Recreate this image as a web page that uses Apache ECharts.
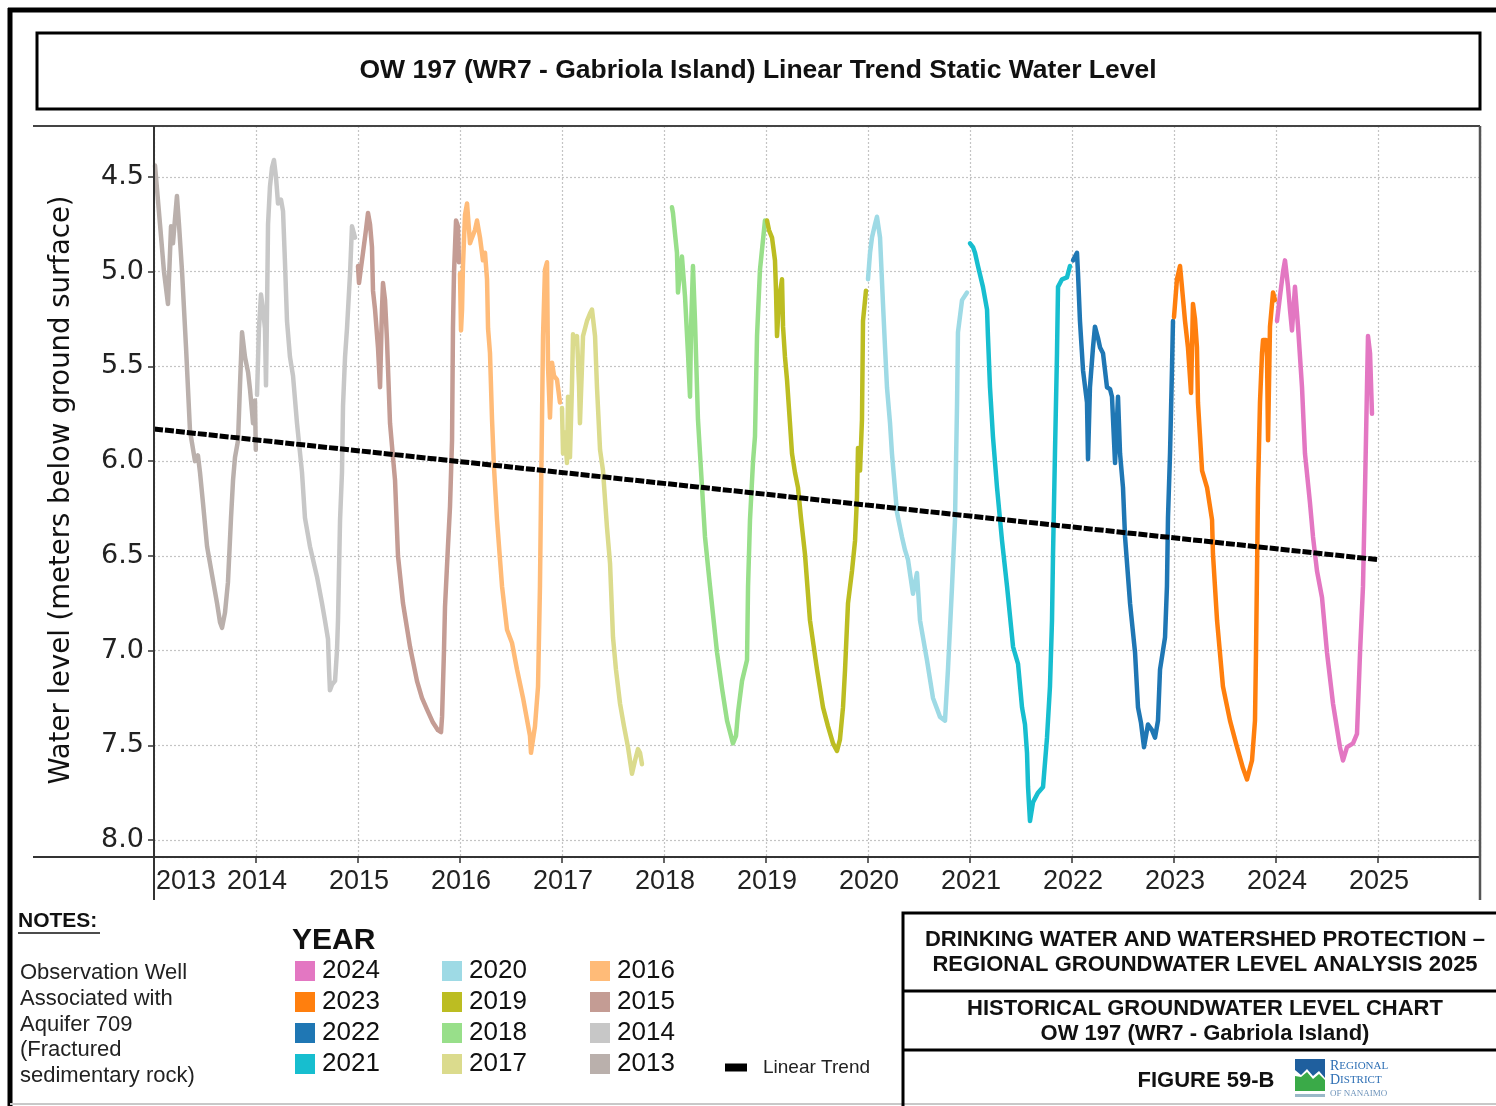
<!DOCTYPE html>
<html>
<head>
<meta charset="utf-8">
<title>OW 197 (WR7 - Gabriola Island) Linear Trend Static Water Level</title>
<script src="https://cdn.jsdelivr.net/npm/echarts@6/dist/echarts.min.js"></script>
<style>
  html, body { margin: 0; padding: 0; background: #ffffff; }
  #chart { width: 1496px; height: 1106px; }
</style>
</head>
<body>
<div id="chart"></div>
<script>
// Static water level (m below ground surface) at OW 197, one trace per year.
// Each point is [fraction of the year elapsed, water level].
const level2013 = [[0.010,4.44],[0.059,4.75],[0.098,5.00],[0.137,5.17],[0.157,4.90],[0.167,4.76],[0.186,4.85],[0.206,4.72],[0.225,4.60],[0.245,4.75],[0.275,5.00],[0.314,5.40],[0.353,5.84],[0.402,6.00],[0.431,5.97],[0.451,6.06],[0.480,6.22],[0.520,6.45],[0.569,6.60],[0.618,6.75],[0.647,6.85],[0.667,6.88],[0.696,6.80],[0.725,6.64],[0.755,6.30],[0.775,6.10],[0.794,5.98],[0.824,5.89],[0.843,5.60],[0.863,5.32],[0.892,5.45],[0.922,5.53],[0.941,5.62],[0.971,5.80],[0.990,5.68],[0.998,5.94]];
const level2014 = [[0.010,5.65],[0.029,5.30],[0.049,5.12],[0.069,5.20],[0.088,5.30],[0.098,5.60],[0.108,5.20],[0.118,4.75],[0.137,4.55],[0.157,4.45],[0.176,4.41],[0.196,4.50],[0.216,4.64],[0.245,4.62],[0.265,4.68],[0.284,4.95],[0.304,5.26],[0.333,5.45],[0.363,5.55],[0.402,5.80],[0.451,6.06],[0.480,6.30],[0.529,6.45],[0.598,6.61],[0.647,6.75],[0.676,6.84],[0.706,6.94],[0.716,7.10],[0.725,7.21],[0.745,7.18],[0.775,7.16],[0.794,7.00],[0.804,6.84],[0.824,6.31],[0.843,6.06],[0.853,5.71],[0.873,5.45],[0.892,5.30],[0.922,5.01],[0.941,4.76],[0.971,4.82]];
const level2015 = [[0.000,4.97],[0.010,5.06],[0.029,4.98],[0.049,4.90],[0.078,4.78],[0.098,4.69],[0.118,4.75],[0.137,4.87],[0.147,5.10],[0.167,5.20],[0.196,5.40],[0.216,5.61],[0.235,5.20],[0.245,5.06],[0.265,5.15],[0.284,5.36],[0.314,5.80],[0.343,5.98],[0.363,6.10],[0.392,6.50],[0.441,6.75],[0.510,6.98],[0.578,7.16],[0.627,7.25],[0.676,7.31],[0.735,7.38],[0.784,7.42],[0.814,7.43],[0.824,7.35],[0.843,7.00],[0.853,6.77],[0.882,6.45],[0.902,6.24],[0.922,5.89],[0.931,5.30],[0.941,5.01],[0.961,4.73],[0.980,4.76],[0.990,4.95]];
const level2016 = [[0.000,5.01],[0.010,5.31],[0.020,5.20],[0.029,4.97],[0.049,4.70],[0.069,4.64],[0.098,4.85],[0.118,4.82],[0.147,4.78],[0.167,4.73],[0.196,4.82],[0.225,4.94],[0.245,4.90],[0.265,5.04],[0.275,5.30],[0.294,5.43],[0.314,5.78],[0.333,6.03],[0.363,6.31],[0.412,6.66],[0.461,6.89],[0.510,6.96],[0.559,7.10],[0.618,7.25],[0.686,7.45],[0.696,7.54],[0.735,7.40],[0.765,7.19],[0.784,6.66],[0.794,6.20],[0.804,5.78],[0.814,5.34],[0.833,4.99],[0.853,4.95],[0.863,5.50],[0.882,5.77],[0.902,5.48],[0.922,5.55],[0.951,5.57],[0.980,5.69]];
const level2017 = [[0.000,5.72],[0.010,5.96],[0.029,5.85],[0.049,6.01],[0.059,5.66],[0.078,5.98],[0.098,5.60],[0.108,5.33],[0.127,5.38],[0.147,5.34],[0.167,5.60],[0.176,5.80],[0.196,5.50],[0.206,5.34],[0.245,5.26],[0.275,5.22],[0.294,5.20],[0.324,5.34],[0.343,5.61],[0.373,5.94],[0.402,6.05],[0.441,6.35],[0.471,6.54],[0.500,6.93],[0.529,7.10],[0.569,7.28],[0.608,7.40],[0.647,7.51],[0.686,7.65],[0.716,7.58],[0.745,7.52],[0.765,7.54],[0.784,7.60]];
const level2018 = [[0.078,4.66],[0.088,4.69],[0.108,4.80],[0.127,4.90],[0.137,5.11],[0.157,5.00],[0.176,4.92],[0.206,5.13],[0.235,5.43],[0.255,5.66],[0.265,5.30],[0.284,4.97],[0.304,5.26],[0.333,5.78],[0.373,6.14],[0.402,6.40],[0.451,6.66],[0.520,7.01],[0.569,7.20],[0.618,7.37],[0.676,7.49],[0.706,7.45],[0.725,7.33],[0.765,7.16],[0.814,7.05],[0.824,6.66],[0.843,6.31],[0.873,6.00],[0.892,5.87],[0.912,5.34],[0.941,4.99],[0.971,4.83],[0.990,4.73]];
const level2019 = [[0.010,4.73],[0.029,4.78],[0.059,4.82],[0.088,4.94],[0.098,5.10],[0.108,5.34],[0.127,5.15],[0.157,5.04],[0.167,5.29],[0.186,5.45],[0.206,5.57],[0.235,5.80],[0.255,5.96],[0.284,6.06],[0.314,6.14],[0.343,6.30],[0.382,6.49],[0.431,6.84],[0.500,7.10],[0.559,7.30],[0.608,7.40],[0.657,7.49],[0.696,7.53],[0.725,7.47],[0.755,7.30],[0.775,7.10],[0.804,6.75],[0.843,6.58],[0.873,6.42],[0.892,6.19],[0.902,5.93],[0.922,6.05],[0.941,5.78],[0.951,5.26],[0.980,5.10]];
const level2020 = [[0.000,5.04],[0.020,4.90],[0.039,4.82],[0.069,4.75],[0.088,4.71],[0.118,4.82],[0.147,5.17],[0.167,5.40],[0.186,5.61],[0.216,5.80],[0.235,5.96],[0.284,6.27],[0.333,6.40],[0.363,6.47],[0.392,6.52],[0.441,6.70],[0.480,6.59],[0.510,6.84],[0.578,7.05],[0.637,7.25],[0.706,7.35],[0.755,7.37],[0.784,7.10],[0.824,6.66],[0.853,6.31],[0.873,5.70],[0.882,5.32],[0.922,5.15],[0.971,5.11]];
const level2021 = [[0.000,4.85],[0.029,4.87],[0.049,4.90],[0.078,4.97],[0.127,5.08],[0.167,5.20],[0.176,5.34],[0.196,5.61],[0.225,5.87],[0.265,6.14],[0.314,6.42],[0.363,6.66],[0.422,6.98],[0.471,7.07],[0.510,7.30],[0.539,7.39],[0.559,7.54],[0.569,7.72],[0.588,7.90],[0.618,7.80],[0.667,7.75],[0.716,7.72],[0.755,7.46],[0.784,7.19],[0.804,6.84],[0.814,6.49],[0.833,5.96],[0.853,5.43],[0.863,5.08],[0.902,5.04],[0.951,5.03],[0.980,4.97]];
const level2022 = [[0.010,4.94],[0.029,4.93],[0.049,4.90],[0.059,5.01],[0.078,5.26],[0.108,5.52],[0.147,5.69],[0.157,5.99],[0.176,5.61],[0.206,5.40],[0.225,5.29],[0.255,5.35],[0.275,5.40],[0.304,5.43],[0.343,5.61],[0.373,5.62],[0.392,5.66],[0.422,6.01],[0.451,5.66],[0.471,5.96],[0.500,6.14],[0.520,6.40],[0.569,6.75],[0.618,7.01],[0.647,7.30],[0.676,7.38],[0.706,7.51],[0.745,7.39],[0.784,7.42],[0.814,7.46],[0.843,7.37],[0.863,7.10],[0.912,6.93],[0.931,6.66],[0.941,6.30],[0.961,5.96],[0.980,5.52],[0.990,5.26]];
const level2023 = [[0.000,5.24],[0.029,5.04],[0.059,4.97],[0.078,5.08],[0.108,5.26],[0.137,5.40],[0.167,5.64],[0.186,5.17],[0.206,5.25],[0.225,5.40],[0.235,5.69],[0.275,6.05],[0.324,6.14],[0.373,6.31],[0.382,6.49],[0.422,6.84],[0.480,7.19],[0.549,7.37],[0.618,7.51],[0.676,7.62],[0.716,7.68],[0.745,7.62],[0.765,7.58],[0.794,7.37],[0.804,7.01],[0.814,6.58],[0.824,6.14],[0.843,5.69],[0.863,5.43],[0.873,5.36],[0.902,5.36],[0.912,5.45],[0.922,5.89],[0.941,5.29],[0.971,5.11],[0.990,5.15]];
const level2024 = [[0.010,5.26],[0.039,5.13],[0.069,5.00],[0.088,4.94],[0.118,5.08],[0.137,5.20],[0.157,5.31],[0.186,5.08],[0.216,5.29],[0.255,5.61],[0.284,5.96],[0.333,6.22],[0.363,6.40],[0.402,6.58],[0.451,6.72],[0.500,7.01],[0.559,7.28],[0.627,7.51],[0.657,7.58],[0.696,7.51],[0.755,7.49],[0.794,7.44],[0.824,7.01],[0.853,6.66],[0.873,6.14],[0.892,5.61],[0.902,5.34],[0.922,5.43],[0.941,5.75]];

// Linear trend fitted through the full record: [start, end]
const trendYears = [2013.0, 2025.0];
const trendLevels = [5.83, 6.52];

const years = [2013, 2014, 2015, 2016, 2017, 2018, 2019, 2020, 2021, 2022, 2023, 2024];
const levelsByYear = {
  2013: level2013, 2014: level2014, 2015: level2015, 2016: level2016,
  2017: level2017, 2018: level2018, 2019: level2019, 2020: level2020,
  2021: level2021, 2022: level2022, 2023: level2023, 2024: level2024
};

// Legend columns, as printed in the key
const legendColumns = [
  ['2024', '2023', '2022', '2021'],
  ['2020', '2019', '2018', '2017'],
  ['2016', '2015', '2014', '2013']
];

const notesText = ['Observation Well', 'Associated with', 'Aquifer 709', '(Fractured', 'sedimentary rock)'];

// ---- styling ----
const yearColors = {
  2024: '#e377c2', 2023: '#ff7f0e', 2022: '#1f77b4', 2021: '#17becf',
  2020: '#9edae5', 2019: '#bcbd22', 2018: '#98df8a', 2017: '#dbdb8d',
  2016: '#ffbb78', 2015: '#c49c94', 2014: '#c7c7c7', 2013: '#bab0ac'
};
const SANS = '"Liberation Sans", Arial, sans-serif';
const ROUND = '"DejaVu Sans", Verdana, sans-serif';
const INK = '#111111';

const chart = echarts.init(document.getElementById('chart'), null, { renderer: 'canvas' });

const yearSeries = years.map(function (yr) {
  return {
    name: String(yr),
    type: 'line',
    showSymbol: false,
    symbol: 'none',
    silent: true,
    z: 3,
    lineStyle: { color: yearColors[yr], width: 4.5, cap: 'round', join: 'round' },
    itemStyle: { color: yearColors[yr] },
    data: levelsByYear[yr].map(function (p) { return [yr + p[0], p[1]]; })
  };
});

const trendSeries = {
  name: 'Linear Trend',
  type: 'line',
  showSymbol: false,
  symbol: 'none',
  silent: true,
  z: 5,
  lineStyle: { color: '#000000', width: 5, type: [9, 2] },
  itemStyle: { color: '#000000' },
  data: trendYears.map(function (x, i) { return [x, trendLevels[i]]; })
};

function yearLegend(names, left) {
  return {
    orient: 'vertical',
    left: left,
    top: 958,
    itemWidth: 20,
    itemHeight: 20,
    itemGap: 5,
    icon: 'rect',
    selectedMode: false,
    padding: 0,
    textStyle: { fontFamily: SANS, fontSize: 26, color: INK, lineHeight: 26, padding: [0, 0, 0, 2] },
    data: names
  };
}

const serifLogo = '"Liberation Serif", serif';
const graphics = [
  // outer sheet frame
  { type: 'line', shape: { x1: 10, y1: 8, x2: 10, y2: 1106 }, style: { stroke: '#000', lineWidth: 5 } },
  { type: 'line', shape: { x1: 8, y1: 10, x2: 1496, y2: 10 }, style: { stroke: '#000', lineWidth: 5 } },
  { type: 'line', shape: { x1: 10, y1: 1104, x2: 1496, y2: 1104 }, style: { stroke: '#c8c8c8', lineWidth: 2 } },
  // title box
  { type: 'rect', shape: { x: 37, y: 33, width: 1443, height: 76 }, style: { fill: 'none', stroke: '#000', lineWidth: 3 } },
  { type: 'text', x: 758, y: 71, style: { text: 'OW 197 (WR7 - Gabriola Island) Linear Trend Static Water Level', fontFamily: SANS, fontWeight: 'bold', fontSize: 26.5, fill: INK, align: 'center', verticalAlign: 'middle' } },
  // plot frame
  { type: 'line', shape: { x1: 33, y1: 126, x2: 1480, y2: 126 }, style: { stroke: '#444', lineWidth: 2 }, z: 10 },
  { type: 'line', shape: { x1: 33, y1: 857, x2: 1480, y2: 857 }, style: { stroke: '#333', lineWidth: 2 }, z: 10 },
  { type: 'line', shape: { x1: 154, y1: 126, x2: 154, y2: 900 }, style: { stroke: '#333', lineWidth: 2 }, z: 10 },
  { type: 'line', shape: { x1: 1480, y1: 126, x2: 1480, y2: 900 }, style: { stroke: '#555', lineWidth: 2.5 }, z: 10 },
  // y axis title
  { type: 'text', x: 62, y: 490, rotation: Math.PI / 2, style: { text: 'Water level (meters below ground surface)', fontFamily: ROUND, fontSize: 27.5, fill: INK, align: 'center', verticalAlign: 'middle' } },
  // notes
  { type: 'text', x: 18, y: 921, style: { text: 'NOTES:', fontFamily: SANS, fontWeight: 'bold', fontSize: 21, fill: INK, align: 'left', verticalAlign: 'middle' } },
  { type: 'line', shape: { x1: 18, y1: 933, x2: 100, y2: 933 }, style: { stroke: INK, lineWidth: 1.5 } },
  { type: 'text', x: 20, y: 960, style: { text: notesText.join('\n'), fontFamily: SANS, fontSize: 22, lineHeight: 25.8, fill: '#222', align: 'left', verticalAlign: 'top' } },
  // legend heading
  { type: 'text', x: 292, y: 941, style: { text: 'YEAR', fontFamily: SANS, fontWeight: 'bold', fontSize: 30, fill: INK, align: 'left', verticalAlign: 'middle' } },
  // title block
  { type: 'rect', shape: { x: 903, y: 913, width: 600, height: 200 }, style: { fill: 'none', stroke: '#000', lineWidth: 3 } },
  { type: 'line', shape: { x1: 903, y1: 991, x2: 1496, y2: 991 }, style: { stroke: '#000', lineWidth: 3 } },
  { type: 'line', shape: { x1: 903, y1: 1050, x2: 1496, y2: 1050 }, style: { stroke: '#000', lineWidth: 3 } },
  { type: 'text', x: 1205, y: 952, style: { text: 'DRINKING WATER AND WATERSHED PROTECTION –\nREGIONAL GROUNDWATER LEVEL ANALYSIS 2025', fontFamily: SANS, fontWeight: 'bold', fontSize: 22, lineHeight: 25, fill: INK, align: 'center', verticalAlign: 'middle' } },
  { type: 'text', x: 1205, y: 1021, style: { text: 'HISTORICAL GROUNDWATER LEVEL CHART\nOW 197 (WR7 - Gabriola Island)', fontFamily: SANS, fontWeight: 'bold', fontSize: 22, lineHeight: 25, fill: INK, align: 'center', verticalAlign: 'middle' } },
  { type: 'text', x: 1206, y: 1081, style: { text: 'FIGURE 59-B', fontFamily: SANS, fontWeight: 'bold', fontSize: 22, fill: INK, align: 'center', verticalAlign: 'middle' } },
  // district logo
  { type: 'polygon', shape: { points: [[1295, 1059], [1325, 1059], [1325, 1078], [1319, 1071], [1313, 1076], [1307, 1069], [1301, 1075], [1295, 1070]] }, style: { fill: '#1f5f9e' } },
  { type: 'polygon', shape: { points: [[1295, 1076], [1301, 1077], [1307, 1072], [1313, 1079], [1319, 1074], [1325, 1080], [1325, 1091], [1295, 1091]] }, style: { fill: '#3aaa48' } },
  { type: 'rect', shape: { x: 1295, y: 1094, width: 30, height: 3 }, style: { fill: '#9ab8c8' } },
  { type: 'text', x: 1330, y: 1066, style: { text: '{b|R}{s|EGIONAL}', rich: { b: { fontFamily: serifLogo, fontSize: 14, fill: '#2e6fb4' }, s: { fontFamily: serifLogo, fontSize: 11, fill: '#2e6fb4' } }, align: 'left', verticalAlign: 'middle' } },
  { type: 'text', x: 1330, y: 1080, style: { text: '{b|D}{s|ISTRICT}', rich: { b: { fontFamily: serifLogo, fontSize: 14, fill: '#2e6fb4' }, s: { fontFamily: serifLogo, fontSize: 11, fill: '#2e6fb4' } }, align: 'left', verticalAlign: 'middle' } },
  { type: 'text', x: 1330, y: 1094, style: { text: 'OF NANAIMO', fontFamily: serifLogo, fontSize: 9, fill: '#6f94bb', align: 'left', verticalAlign: 'middle' } }
];

const option = {
  animation: false,
  backgroundColor: '#ffffff',
  grid: { left: 154, right: 16, top: 126, bottom: 249, show: false, containLabel: false },
  xAxis: {
    type: 'value',
    min: 2013,
    max: 2026,
    interval: 1,
    axisLine: { show: false },
    axisTick: { show: true, length: 6, lineStyle: { color: '#333', width: 1.5 } },
    axisLabel: {
      show: true,
      margin: 11,
      fontFamily: SANS,
      fontSize: 27,
      color: '#222',
      showMaxLabel: false,
      alignMinLabel: 'left',
      formatter: function (v) { return v >= 2026 ? '' : String(v); },
      padding: [0, 0, 0, 2]
    },
    splitLine: { show: true, lineStyle: { color: '#c4c4c4', width: 1.2, type: [2, 2] } }
  },
  yAxis: {
    type: 'value',
    inverse: true,
    min: 4.2308,
    max: 8.0897,
    splitNumber: 7,
    axisLine: { show: false },
    axisTick: { show: true, length: 6, lineStyle: { color: '#333', width: 1.5 } },
    axisLabel: {
      margin: 10,
      fontFamily: ROUND,
      fontSize: 27,
      color: '#222',
      showMinLabel: false,
      showMaxLabel: false,
      formatter: function (v) { return v.toFixed(1); }
    },
    splitLine: { show: true, lineStyle: { color: '#c4c4c4', width: 1.2, type: [2, 2] } }
  },
  legend: [
    yearLegend(legendColumns[0], 295),
    yearLegend(legendColumns[1], 442),
    yearLegend(legendColumns[2], 590),
    {
      orient: 'horizontal',
      left: 725,
      top: 1058,
      itemWidth: 22,
      itemHeight: 8,
      icon: 'rect',
      selectedMode: false,
      padding: 0,
      textStyle: { fontFamily: SANS, fontSize: 19, color: '#222', padding: [0, 0, 0, 11] },
      data: ['Linear Trend']
    }
  ],
  graphic: { elements: graphics },
  series: yearSeries.concat([trendSeries])
};

chart.setOption(option);
</script>
</body>
</html>
